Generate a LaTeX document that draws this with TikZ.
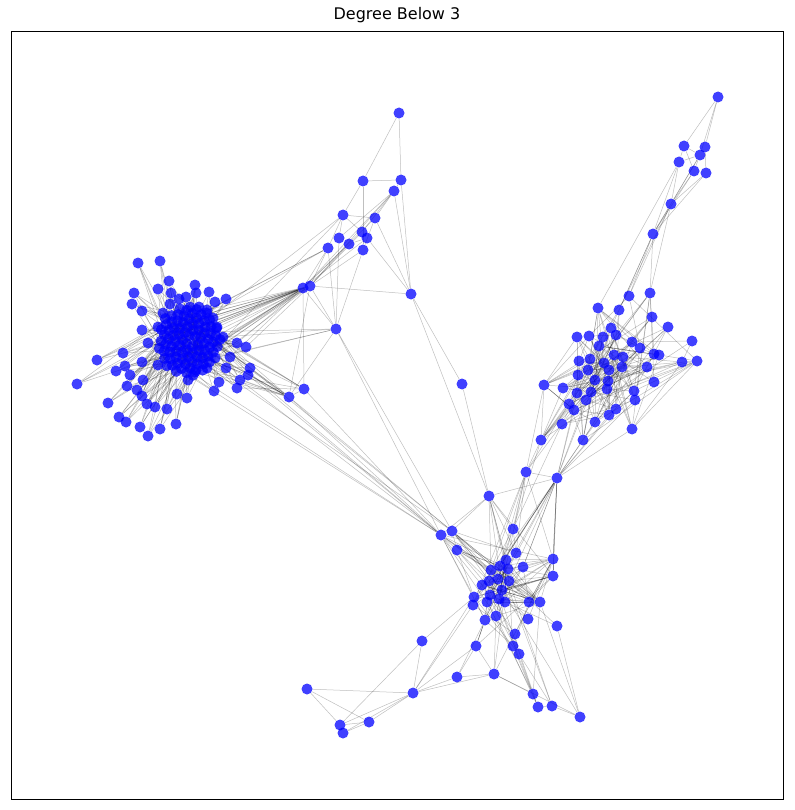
\documentclass[tikz,border=0pt]{standalone}
\usepackage{fontspec}
\setmainfont{DejaVu Sans}
\pgfdeclarelayer{bg}
\pgfsetlayers{bg,main}

\newcommand*{\ncore}{90}
\newcommand*{\nright}{49}

\begin{document}
\begin{tikzpicture}
[
	x=1pt,
	y=-1pt,
	vert/.style={circle,fill=blue,fill opacity=0.75,inner sep=0pt,minimum size=11pt},
	edge/.style={black,draw opacity=0.25,line width=0.5pt}
]
	\useasboundingbox (0,0) rectangle (794,810);

	% frame and title
	\draw[line width=0.8pt] (11,31) rectangle (783,799);
	\node[font=\fontsize{16}{19}\selectfont] (title) at (397,15) {Degree Below 3};

	% left cluster, outer nodes
	\foreach \x/\y [count=\i] in {138/263,160/261,169/281,195/285,209/292,226/299,134/293,158/289,
		132/304,142/311,171/293,186/297,196/293,179/299,170/304,190/307,199/307,207/310,215/302,
		163/313,213/318,142/330,158/327,217/327,223/337,148/343,237/343,246/347,123/353,97/360,
		125/366,142/362,230/357,116/371,130/375,158/365,250/368,248/375,77/384,143/380,127/386,
		137/390,226/368,207/368,195/372,188/380,240/380,237/388,219/382,214/391,142/396,177/394,
		187/398,108/403,147/404,155/407,167/409,119/417,126/422,140/427,160/429,176/424,148/436} {
		\node[vert] (l\i) at (\x,\y) {};
	}

	% left cluster, core
	\foreach \k in {1,...,\ncore} {
		\node[vert] (c\k) at ({189+3.3*sqrt(\k)*cos(137.5*\k)},{341+3.7*sqrt(\k)*sin(137.5*\k)}) {};
	}

	% upper middle group
	\foreach \x/\y [count=\i] in {399/113,363/181,401/180,394/191,343/215,375/218,362/232,367/238,
		339/238,349/244,328/248,363/250,303/288,310/286,411/294,336/329,304/389,289/397} {
		\node[vert] (u\i) at (\x,\y) {};
	}
	\node[vert] (m1) at (462,384) {};

	% top right chain
	\foreach \x/\y [count=\i] in {718/97,684/146,705/147,700/155,679/162,694/171,706/173,671/204,653/234} {
		\node[vert] (t\i) at (\x,\y) {};
	}

	% right cluster
	\foreach \x/\y [count=\i] in {629/296,650/293,598/308,619/310,652/317,668/327,611/328,577/337,
		589/336,603/337,616/335,599/346,632/342,640/348,692/341,614/355,623/357,654/354,659/355,
		579/361,590/359,604/363,622/367,647/367,682/362,697/361,578/375,588/370,609/370,544/385,
		563/388,595/380,608/381,654/382,577/393,591/392,607/389,634/391,635/400,569/404,586/400,
		574/410,616/409,609/415,595/422,562/424,632/429,541/440,583/440} {
		\node[vert] (r\i) at (\x,\y) {};
	}

	% bottom cluster
	\foreach \x/\y [count=\i] in {557/478,489/496,441/535,452/531,513/529,457/550,516/553,553/559,
		506/560,523/567,500/566,508/569,491/570,553/576,489/581,498/579,509/581,482/585,502/590,
		490/595,474/597,499/599,473/605,487/602,505/602,529/602,540/602,485/620,496/616,528/619,
		557/626,515/634,476/646,513/646,519/654,494/674,533/694,538/707,552/706,580/717,526/472} {
		\node[vert] (b\i) at (\x,\y) {};
	}

	% south west group
	\foreach \x/\y [count=\i] in {422/641,307/689,413/693,457/677,369/722,340/725,343/733} {
		\node[vert] (s\i) at (\x,\y) {};
	}

	\pgfmathsetseed{11}
	\begin{pgfonlayer}{bg}

	% left cluster links
	\foreach \i in {1,...,63} {
		\foreach \n in {1,...,4} {
			\pgfmathrandominteger{\j}{1}{\ncore}
			\draw[edge] (l\i) -- (c\j);
		}
	}
	\foreach \n in {1,...,120} {
		\pgfmathrandominteger{\i}{1}{\ncore}
		\pgfmathrandominteger{\k}{1}{88}
		\pgfmathtruncatemacro{\j}{mod(\i+\k,\ncore)+1}
		\draw[edge] (c\i) -- (c\j);
	}
	\foreach \a/\n in {u13/12,u14/12,u16/4,u17/5,u18/10,u11/3,u5/2,b3/3,b4/2} {
		\foreach \m in {1,...,\n} {
			\pgfmathrandominteger{\j}{1}{\ncore}
			\draw[edge] (\a) -- (c\j);
		}
	}
	\foreach \a/\b in {l27/u13,l28/u14,l37/u18,l38/u18,l47/u18,l48/u17,l33/u13,l25/u14,l38/b3,l47/b3} {
		\draw[edge] (\a) -- (\b);
	}

	% upper middle links
	\foreach \a/\b in {u1/u2,u1/u3,u2/u3,u2/u5,u2/u12,u3/u4,u3/u15,u4/u15,u4/u6,u4/u13,u4/u14,
		u4/u7,u4/u9,u5/u6,u5/u11,u5/u9,u5/u7,u6/u12,u6/u15,u6/u13,u7/u8,u8/u10,u9/u10,u8/u15,
		u11/u13,u11/u14,u11/u16,u12/u16,u12/u14,u10/u14,u7/u14,u13/u16,u14/u15,u14/u16,u9/u16,
		u13/u17,u14/u18,u16/u18,u10/u13,u8/u13,u15/m1,u15/b2,m1/b2,u16/b3,u16/b4,u18/b3,u18/b4,
		u17/b3,u17/u18} {
		\draw[edge] (\a) -- (\b);
	}

	% top right links
	\foreach \a/\b in {t1/t2,t1/t3,t1/t4,t2/t4,t2/t5,t2/t6,t3/t4,t3/t7,t4/t6,t4/t5,t4/t8,t5/t8,
		t5/t9,t6/t7,t6/t8,t7/t8,t4/t9,t6/t9,t8/t9,t7/t9,t9/r1,t9/r2,t8/r1,t9/r4,t8/r4,t5/r3,
		t9/r7,t8/r2} {
		\draw[edge] (\a) -- (\b);
	}

	% right cluster links
	\foreach \n in {1,...,170} {
		\pgfmathrandominteger{\i}{1}{\nright}
		\pgfmathrandominteger{\k}{1}{47}
		\pgfmathtruncatemacro{\j}{mod(\i+\k,\nright)+1}
		\draw[edge] (r\i) -- (r\j);
	}
	\foreach \a/\b in {r48/b41,r46/b41,r40/b41,r30/b41,r48/b5,r46/b5,r49/b1,r45/b1,r44/b1,
		r43/b1,r41/b1,r36/b1,r42/b1,r35/b1,r30/r48,r31/r48,r40/r48,r47/b1,r39/b1} {
		\draw[edge] (\a) -- (\b);
	}

	% bottom cluster links
	\foreach \n in {1,...,70} {
		\pgfmathrandominteger{\i}{7}{29}
		\pgfmathrandominteger{\k}{1}{21}
		\pgfmathtruncatemacro{\j}{mod(\i-7+\k,23)+7}
		\draw[edge] (b\i) -- (b\j);
	}
	\foreach \a/\n in {b3/9,b4/9,b6/7,b1/12,b2/5,b41/5,b5/4,b8/3,b14/3,b26/3,b27/3,b30/3,b31/2,
		b32/3,b33/3,b34/3,b35/3,b37/3,b38/2,b39/2,b40/2,b36/2} {
		\foreach \m in {1,...,\n} {
			\pgfmathrandominteger{\j}{7}{29}
			\draw[edge] (\a) -- (b\j);
		}
	}
	\foreach \a/\b in {b2/b3,b2/b4,b2/b5,b2/b1,b2/b13,b2/b9,b3/b4,b4/b6,b3/b6,b5/b41,b1/b41,
		b1/b8,b1/b14,b8/b14,b36/b33,b36/b29,b36/b40,b36/b37,b37/b38,b38/b39,b39/b40,b37/b35,
		b34/b38,b35/b39,b32/b34,b32/b35,b33/b28,b41/b11,b31/b40} {
		\draw[edge] (\a) -- (\b);
	}

	% south west links
	\foreach \a/\b in {s2/s3,s2/s6,s2/s5,s1/s6,s1/s3,s3/s5,s3/s6,s3/s7,s3/s4,s5/s6,s7/s5,s6/s7,
		s3/b21,s3/b23,s3/b33,s4/b33,s4/b36,s4/b28,s1/b21,s3/b36} {
		\draw[edge] (\a) -- (\b);
	}

	\end{pgfonlayer}

\end{tikzpicture}
\end{document}
